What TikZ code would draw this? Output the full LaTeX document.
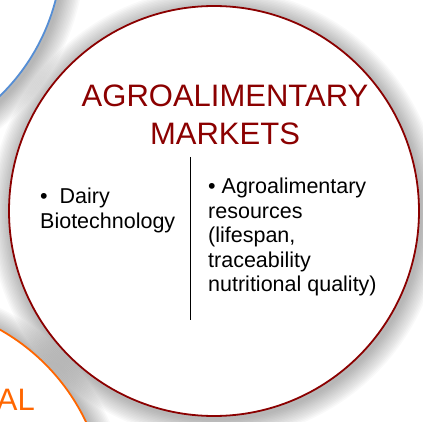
\documentclass[tikz,border=0pt]{standalone}
\usepackage{fontspec}
\setmainfont{Liberation Sans}
\usepackage{xcolor}
\usepackage{tikz}

\definecolor{marketred}{RGB}{139,0,0}
\definecolor{ringblue}{RGB}{85,142,213}
\definecolor{ringorange}{RGB}{255,102,0}

\begin{document}
\begin{tikzpicture}[x=1pt, y=-1pt,
    ring/.style={line width=1.8pt, fill=white},
    item/.style={anchor=north west, align=left, inner sep=0pt, font=\fontsize{21.5}{24.5}\selectfont}]
\useasboundingbox (0,0) rectangle (423,422);

% Soft shadows
\foreach \cx/\cy/\r in {214/211/205, -143/-51/205, -102/511/208} {
    \foreach \k in {0,...,13}
        \fill[black, opacity=0.022] (\cx+2,\cy+3) circle ({\r+21-1.5*\k});
}

% Rings
\draw[ring, draw=ringblue] (-143,-51) circle (205);
\draw[ring, draw=ringorange] (-102,511) circle (208);
\draw[ring, draw=marketred] (214,211) circle (205);

% Neighbour label
\node[anchor=base east, inner sep=0pt, text=ringorange, font=\fontsize{31}{38}\selectfont] (nutri) at (35,410) {AL};

% Title
\node[align=center, text=marketred, font=\fontsize{31}{38}\selectfont] (title) at (225,115) {AGROALIMENTARY\\MARKETS};

% Divider
\coordinate (divtop) at (190,157);
\coordinate (divbot) at (190,320);
\draw[black, line width=0.8pt] (divtop) -- (divbot);

% Topics
\node[item, font=\fontsize{21.5}{25}\selectfont] (dairy) at (40,187.5) {\textbullet\ \ Dairy\\Biotechnology};
\node[item] (resources) at (208,178) {\textbullet\ Agroalimentary\\resources\\(lifespan,\\traceability\\nutritional quality)};
\end{tikzpicture}
\end{document}
